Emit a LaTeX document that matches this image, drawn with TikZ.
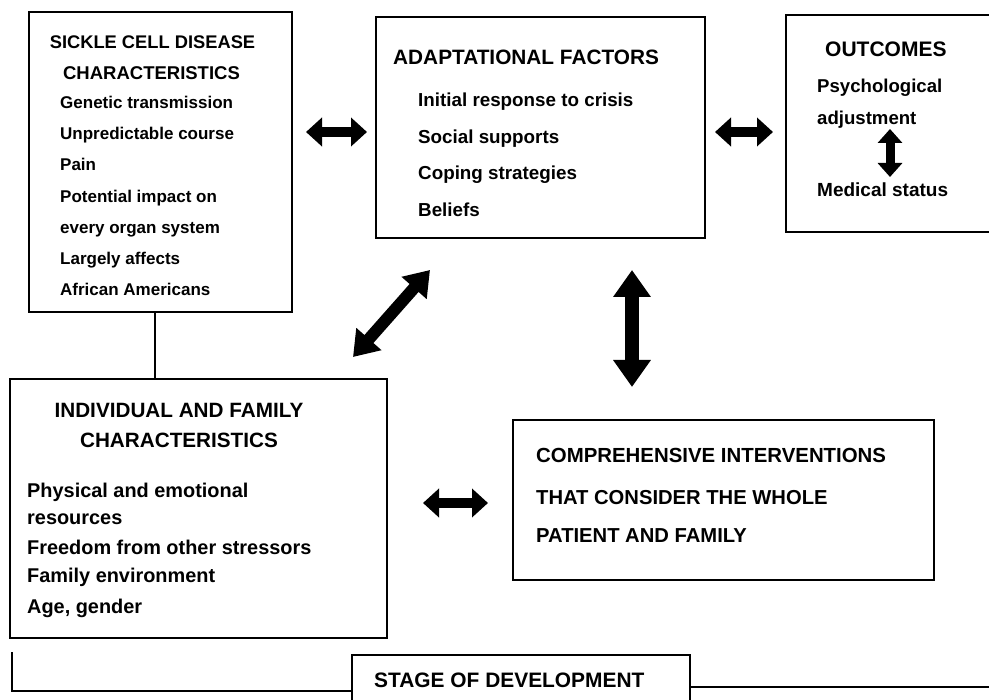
\documentclass[tikz,border=0pt]{standalone}
\usepackage{fontspec}
\setmainfont{Liberation Sans}
\usetikzlibrary{arrows.meta}
\newcommand\dfs[1]{\fontsize{#1}{#1}\selectfont\bfseries}
\begin{document}
\begin{tikzpicture}[x=1pt,y=-1pt,
  box/.style={draw, line width=2.4pt, inner sep=0pt},
  t/.style={anchor=base west, inner sep=0pt},
  tc/.style={anchor=base, inner sep=0pt},
  conn/.style={line width=1.6pt},
  smallarrow/.style={line width=10pt, {Triangle[length=16pt,width=28pt]}-{Triangle[length=16pt,width=28pt]}},
  bigarrow/.style={line width=14pt, {Triangle[length=27pt,width=36pt]}-{Triangle[length=27pt,width=36pt]}},
  innerarrow/.style={line width=9pt, {Triangle[length=14pt,width=24pt]}-{Triangle[length=14pt,width=24pt]}}]
\useasboundingbox (0,0) rectangle (989,700);
\clip (0,0) rectangle (989,700);

% boxes
\node[box, minimum width=263pt, minimum height=300pt] (b1) at (160.5,162) {};
\node[box, minimum width=329pt, minimum height=221pt] (b2) at (540.5,127.5) {};
\node[box, minimum width=224pt, minimum height=217pt] (b3) at (898,123.5) {};
\node[box, minimum width=377pt, minimum height=259pt] (b4) at (198.5,508.5) {};
\node[box, minimum width=421pt, minimum height=160pt] (b5) at (723.5,500) {};
\node[box, minimum width=338pt, minimum height=70pt] (stg) at (521,690) {};

% box 1 text
\node[tc] (t1a) at (152.5,49) {\dfs{18.3}SICKLE CELL DISEASE};
\node[tc] (t1b) at (151.5,80) {\dfs{18.5}CHARACTERISTICS};
\node[t] (t1c) at (60,109) {\dfs{17}Genetic transmission};
\node[t] (t1d) at (60,140) {\dfs{17}Unpredictable course};
\node[t] (t1e) at (60,171) {\dfs{17}Pain};
\node[t] (t1f) at (60,203) {\dfs{17}Potential impact on};
\node[t] (t1g) at (60,234) {\dfs{17}every organ system};
\node[t] (t1h) at (60,265) {\dfs{17}Largely affects};
\node[t] (t1i) at (60,296) {\dfs{17}African Americans};

% box 2 text
\node[t] (t2a) at (393,65) {\dfs{20.8}ADAPTATIONAL FACTORS};
\node[t] (t2b) at (418,107) {\dfs{18.8}Initial response to crisis};
\node[t] (t2c) at (418,143.5) {\dfs{18.8}Social supports};
\node[t] (t2d) at (418,180) {\dfs{18.8}Coping strategies};
\node[t] (t2e) at (418,216.5) {\dfs{18.8}Beliefs};

% box 3 text
\node[t] (t3a) at (825,57) {\dfs{21}OUTCOMES};
\node[t] (t3b) at (817,93) {\dfs{18.6}Psychological};
\node[t] (t3c) at (817,125) {\dfs{18.6}adjustment};
\node[t] (t3d) at (817,197) {\dfs{19}Medical status};
\coordinate (i1) at (890,129);
\coordinate (i2) at (890,177);
\draw[innerarrow] (i1) -- (i2);

% box 4 text
\node[tc] (t4a) at (179,418) {\dfs{20.7}INDIVIDUAL AND FAMILY};
\node[tc] (t4b) at (179,448) {\dfs{20.7}CHARACTERISTICS};
\node[t] (t4c) at (27,498) {\dfs{19.9}Physical and emotional};
\node[t] (t4d) at (27,525) {\dfs{19.9}resources};
\node[t] (t4e) at (27,555) {\dfs{19.9}Freedom from other stressors};
\node[t] (t4f) at (27,583) {\dfs{19.9}Family environment};
\node[t] (t4g) at (27,613) {\dfs{19.9}Age, gender};

% box 5 text
\node[t] (t5a) at (536,463) {\dfs{20.4}COMPREHENSIVE INTERVENTIONS};
\node[t] (t5b) at (536,505) {\dfs{20.2}THAT CONSIDER THE WHOLE};
\node[t] (t5c) at (536,543) {\dfs{20.2}PATIENT AND FAMILY};

% stage
\node[t] (t6) at (374,688) {\dfs{20.9}STAGE OF DEVELOPMENT};

% connector box1 - box4
\coordinate (v) at (155,0);
\draw[conn] (b1.south -| v) -- (b4.north -| v);

% bracket and bottom line
\coordinate (bl1) at (12,652);
\coordinate (bl2) at (12,691);
\draw[line width=2.4pt] (bl1) -- (bl2) -- (bl2 -| stg.west);
\coordinate (rend) at (989,687);
\draw[line width=2.4pt] (rend -| stg.east) -- (rend);

% arrows
\coordinate (a1s) at (306,132); \coordinate (a1e) at (367,132);
\draw[smallarrow] (a1s) -- (a1e);
\coordinate (a2s) at (715,132); \coordinate (a2e) at (773,132);
\draw[smallarrow] (a2s) -- (a2e);
\coordinate (a3s) at (353,357); \coordinate (a3e) at (430,270);
\draw[line width=12pt, {Triangle[length=24pt,width=32pt]}-{Triangle[length=24pt,width=32pt]}] (a3s) -- (a3e);
\coordinate (a4s) at (632,270); \coordinate (a4e) at (632,387);
\draw[bigarrow] (a4s) -- (a4e);
\coordinate (a5s) at (423,503); \coordinate (a5e) at (488,503);
\draw[smallarrow] (a5s) -- (a5e);
\end{tikzpicture}
\end{document}
